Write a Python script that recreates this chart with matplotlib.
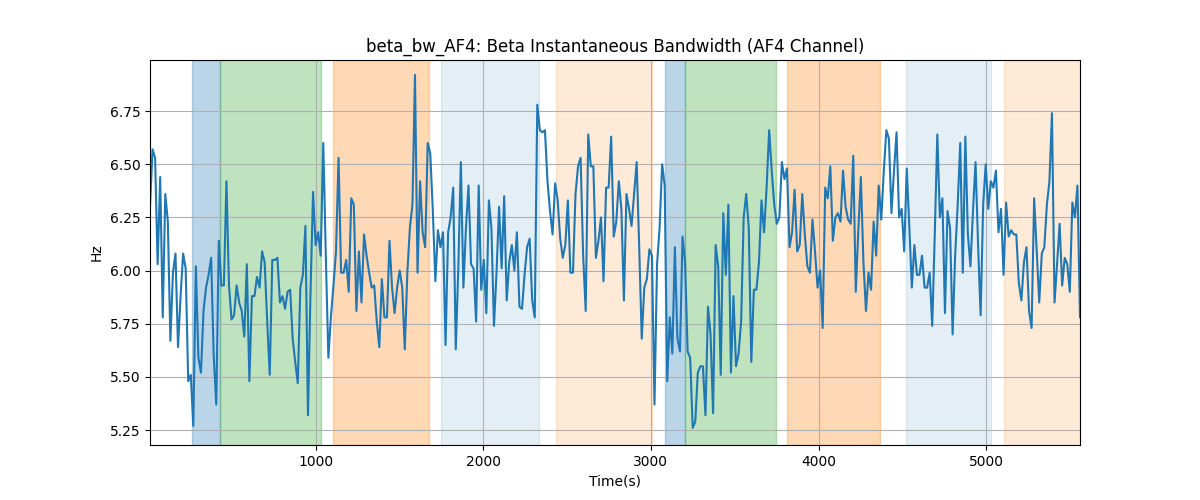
import numpy as np
import matplotlib
matplotlib.use("Agg")
import matplotlib.pyplot as plt


# -------------------------------------------------------
# Data
# -------------------------------------------------------
t_start = 12.0
t_step = 15.2

beta_bw = [
    # 0 - ~800 s
    6.30, 6.57, 6.53, 6.03, 6.44, 5.78, 6.36, 6.23, 5.67, 5.99,
    6.08, 5.64, 5.88, 6.08, 6.01, 5.48, 5.51, 5.27, 6.02, 5.59,
    5.52, 5.81, 5.92, 5.98, 6.06, 5.60, 5.37, 6.14, 5.93, 5.93,
    6.42, 5.93, 5.77, 5.79, 5.93, 5.85, 5.81, 5.69, 6.03, 5.48,
    5.88, 5.88, 5.97, 5.92, 6.09, 6.04, 5.76, 5.51, 6.05, 6.05,
    6.06, 5.85, 5.88,
    # ~800 - ~1590 s
    5.82, 5.90, 5.91, 5.68, 5.57, 5.47, 5.92, 5.98, 6.21, 5.32,
    5.90, 6.37, 6.12, 6.18, 6.07, 6.60, 6.07, 5.59, 5.78, 5.93,
    6.09, 6.53, 5.99, 5.99, 6.05, 5.90, 6.34, 6.31, 5.81, 6.09,
    5.85, 6.17, 6.07, 5.99, 5.92, 5.93, 5.76, 5.64, 5.96, 5.78,
    5.78, 6.14, 5.92, 5.80, 5.92, 6.00, 5.92, 5.63, 5.99, 6.20,
    6.31, 6.92,
    # ~1590 - ~2370 s
    5.99, 6.42, 6.18, 6.11, 6.60, 6.55, 6.28, 5.95, 6.19, 6.11,
    6.18, 5.65, 6.18, 6.25, 6.39, 5.63, 6.01, 6.51, 5.92, 6.20,
    6.40, 6.03, 6.01, 5.76, 6.40, 5.91, 6.05, 5.80, 6.33, 6.20,
    5.74, 5.99, 6.30, 6.01, 6.35, 5.86, 6.04, 6.12, 6.00, 6.18,
    5.83, 5.82, 5.98, 6.11, 6.15, 5.86, 5.78, 6.78, 6.66, 6.65,
    6.66,
    # ~2370 - ~3150 s
    6.42, 6.28, 6.17, 6.41, 6.33, 6.15, 6.06, 6.12, 6.33, 5.99,
    5.99, 6.36, 6.49, 6.53, 6.07, 5.81, 6.64, 6.49, 6.49, 6.06,
    6.14, 6.25, 5.95, 6.39, 6.39, 6.63, 6.16, 6.23, 6.42, 6.29,
    5.86, 6.36, 6.29, 6.21, 6.36, 6.51, 6.11, 5.68, 5.92, 5.96,
    6.10, 6.07, 5.37, 6.03, 6.20, 6.50, 6.40, 5.48, 5.78, 5.61,
    6.11,
    # ~3150 - ~3950 s
    5.68, 5.62, 6.16, 6.04, 5.62, 5.59, 5.26, 5.29, 5.52, 5.55,
    5.55, 5.32, 5.83, 5.70, 5.33, 6.12, 6.02, 5.51, 6.27, 5.98,
    6.31, 5.52, 5.88, 5.55, 5.61, 5.76, 6.25, 6.36, 6.20, 5.57,
    5.91, 5.91, 6.04, 6.33, 6.18, 6.39, 6.66, 6.47, 6.31, 6.22,
    6.25, 6.51, 6.43, 6.48, 6.11, 6.18, 6.38, 6.09, 6.12, 6.36,
    6.17, 6.02, 5.99,
    # ~3950 - ~4740 s
    6.24, 6.09, 5.92, 6.00, 5.73, 6.39, 6.34, 6.49, 6.14, 6.25,
    6.27, 6.23, 6.47, 6.30, 6.24, 6.22, 6.54, 5.90, 6.19, 6.44,
    6.04, 5.81, 5.99, 5.91, 6.23, 6.07, 6.40, 6.24, 6.47, 6.66,
    6.62, 6.27, 6.47, 6.65, 6.25, 6.29, 6.09, 6.48, 6.21, 5.92,
    6.12, 5.98, 5.98, 6.07, 5.92, 5.92, 5.99, 5.74, 6.17, 6.64,
    6.25, 6.34,
    # ~4740 s - end
    5.80, 6.28, 6.20, 5.70, 6.07, 6.31, 6.60, 5.99, 6.63, 6.17,
    6.02, 6.28, 6.51, 6.12, 5.79, 6.31, 6.50, 6.29, 6.42, 6.39,
    6.47, 6.18, 6.29, 5.98, 6.32, 6.16, 6.19, 6.17, 6.17, 5.94,
    5.86, 6.04, 6.11, 5.81, 5.73, 6.34, 6.09, 5.85, 6.08, 6.11,
    6.31, 6.42, 6.74, 5.85, 6.03, 6.22, 5.93, 6.06, 6.03, 5.90,
    6.32, 6.25, 6.40, 5.78,
]

# shaded segments: (start, end, colour, alpha)
span_starts = [262, 430, 1102, 1750, 2433, 3085, 3204, 3811, 4524, 5105]
span_ends = [430, 1032, 1675, 2330, 3007, 3204, 3746, 4365, 5031, 5560]
span_colors = ["C0", "C2", "C1", "C0", "C1", "C0", "C2", "C1", "C0", "C1"]
span_alphas = [0.3, 0.3, 0.3, 0.12, 0.16, 0.3, 0.3, 0.3, 0.12, 0.16]

times = t_start + t_step * np.arange(len(beta_bw))


# -------------------------------------------------------
# Plot
# -------------------------------------------------------
fig, ax = plt.subplots(figsize=(12, 5), dpi=100)

for s, e, c, a in zip(span_starts, span_ends, span_colors, span_alphas):
    ax.axvspan(s, e, color=c, alpha=a)

ax.plot(times, beta_bw, color="C0", linewidth=1.5)

ax.set_xlim(times[0], times[-1])
ax.set_ylim(5.18, 6.99)
ax.set_yticks([5.25, 5.5, 5.75, 6.0, 6.25, 6.5, 6.75])
ax.grid(True)

ax.set_title("beta_bw_AF4: Beta Instantaneous Bandwidth (AF4 Channel)")
ax.set_xlabel("Time(s)")
ax.set_ylabel("Hz")

fig.savefig("out.png")
